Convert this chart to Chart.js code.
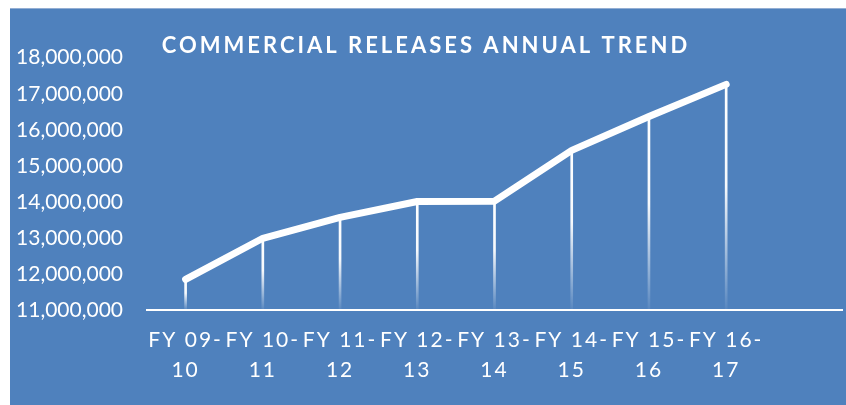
<!DOCTYPE html>
<html>
<head>
<meta charset="utf-8">
<script src="https://cdn.jsdelivr.net/npm/chart.js@4/dist/chart.umd.min.js"></script>
<style>
  html, body { margin: 0; padding: 0; background: #ffffff; }
  #wrap { position: absolute; left: 10px; top: 8px; width: 836px; height: 397px;
          background: #4F81BD; box-shadow: inset 0 1px 0 #93AED3; }
  canvas { display: block; }
</style>
</head>
<body>
<div id="wrap"><canvas id="c" width="836" height="397"></canvas></div>
<script>
// ---- data ----
const categories = ["FY 09-10", "FY 10-11", "FY 11-12", "FY 12-13", "FY 13-14", "FY 14-15", "FY 15-16", "FY 16-17", ""];
const releases = [11850000, 12990000, 13570000, 14010000, 14020000, 15430000, 16370000, 17260000];
const yMin = 11000000;
const yMax = 18000000;
const yStep = 1000000;
const titleText = "COMMERCIAL RELEASES ANNUAL TREND";

// ---- category scale with letter-spaced labels ----
class SpacedCategoryScale extends Chart.CategoryScale {
  drawLabels(chartArea) {
    const c = this.ctx;
    c.save();
    c.letterSpacing = '2px';
    super.drawLabels(chartArea);
    c.restore();
  }
}
SpacedCategoryScale.id = 'spacedCategory';
SpacedCategoryScale.defaults = Chart.CategoryScale.defaults;
Chart.register(SpacedCategoryScale);

// ---- letter-spaced title ----
const spacedTitle = {
  id: 'spacedTitle',
  afterLayout(chart) {
    const tb = chart.titleBlock;
    if (tb && !tb._spaced) {
      const orig = tb.draw.bind(tb);
      tb.draw = function () {
        const c = this.ctx;
        c.save();
        c.letterSpacing = '3px';
        orig();
        c.restore();
      };
      tb._spaced = true;
    }
  }
};

const FONT = "Lato, 'Open Sans', sans-serif";

function dropGradient(ctx) {
  const chart = ctx.chart;
  const area = chart.chartArea;
  if (!area || ctx.type !== 'data' || ctx.raw == null) return 'rgba(255,255,255,0.8)';
  const top = chart.scales.y.getPixelForValue(ctx.raw);
  const g = chart.ctx.createLinearGradient(0, top, 0, area.bottom);
  g.addColorStop(0, 'rgba(255,255,255,1)');
  g.addColorStop(0.45, 'rgba(255,255,255,0.95)');
  g.addColorStop(1, 'rgba(255,255,255,0.05)');
  return g;
}

new Chart(document.getElementById('c'), {
  data: {
    labels: categories,
    datasets: [
      {
        type: 'line',
        data: releases,
        borderColor: '#ffffff',
        borderWidth: 7,
        borderCapStyle: 'round',
        borderJoinStyle: 'round',
        pointRadius: 0,
        tension: 0,
        fill: false,
        order: 0
      },
      {
        type: 'bar',
        data: releases,
        backgroundColor: dropGradient,
        barThickness: 2,
        borderWidth: 0,
        order: 1
      }
    ]
  },
  options: {
    responsive: false,
    animation: false,
    layout: { padding: { left: 0, right: 4, top: 0, bottom: 0 } },
    plugins: {
      legend: { display: false },
      tooltip: { enabled: false },
      title: {
        display: true,
        text: titleText,
        color: '#ffffff',
        align: 'center',
        font: { family: FONT, size: 22, weight: 'bold', lineHeight: 1 },
        padding: { top: 27, bottom: 0.7 }
      }
    },
    scales: {
      x: {
        type: 'spacedCategory',
        offset: true,
        grid: { display: false, drawTicks: false },
        border: { display: true, color: '#ffffff', width: 2 },
        ticks: {
          color: '#ffffff',
          autoSkip: false,
          maxRotation: 0,
          minRotation: 0,
          padding: 16,
          font: { family: FONT, size: 21, lineHeight: 1.4 },
          callback: function (v) {
            const s = this.getLabelForValue(v);
            if (!s) return '';
            const k = s.indexOf('-') + 1;
            return [s.slice(0, k), s.slice(k)];
          }
        },
        afterFit(scale) { scale.height = 95; }
      },
      y: {
        min: yMin,
        max: yMax,
        grid: { display: false, drawTicks: false },
        border: { display: false },
        ticks: {
          stepSize: yStep,
          color: '#ffffff',
          padding: 24,
          font: { family: FONT, size: 21 },
          callback: (v) => v.toLocaleString('en-US')
        },
        afterFit(scale) { scale.width = 137; }
      }
    }
  },
  plugins: [spacedTitle]
});
</script>
</body>
</html>
